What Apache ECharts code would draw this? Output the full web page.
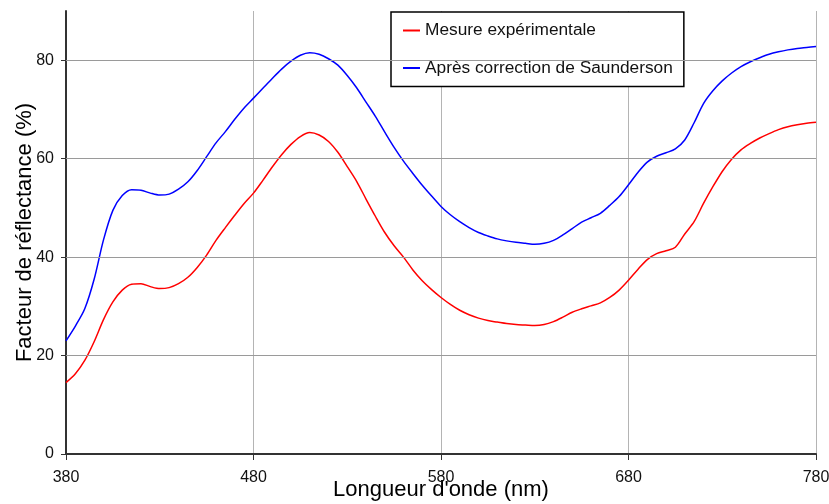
<!DOCTYPE html>
<html>
<head>
<meta charset="utf-8">
<script src="https://cdn.jsdelivr.net/npm/echarts@6/dist/echarts.min.js"></script>
<style>html,body{margin:0;padding:0;background:#fff;}#c{width:829px;height:504px;}</style>
</head>
<body>
<div id="c"></div>
<script>
const wavelengths = [];
for (let w = 380; w <= 780; w += 5) wavelengths.push(w);

const seriesNames = ['Mesure expérimentale', 'Après correction de Saunderson'];

const measured = [
  14.5, 16.3, 19.0, 22.8, 27.3, 30.9, 33.3, 34.5, 34.6, 34.0,
  33.6, 33.8, 34.6, 35.9, 37.9, 40.4, 43.4, 46.0, 48.5, 50.9,
  53.0, 55.6, 58.3, 60.8, 62.9, 64.5, 65.3, 64.8, 63.5, 61.3,
  58.4, 55.4, 51.8, 48.3, 45.0, 42.3, 40.0, 37.4, 35.2, 33.4,
  31.8, 30.4, 29.2, 28.3, 27.6, 27.1, 26.8, 26.5, 26.3, 26.2,
  26.1, 26.3, 26.9, 27.8, 28.8, 29.5, 30.1, 30.7, 31.8, 33.3,
  35.3, 37.5, 39.5, 40.7, 41.3, 42.0, 44.7, 47.2, 50.9, 54.3,
  57.4, 59.9, 61.8, 63.1, 64.2, 65.1, 65.9, 66.5, 66.9, 67.2,
  67.4
];

const corrected = [
  23.0, 26.0, 29.5, 35.5, 43.5, 49.5, 52.5, 53.7, 53.6, 53.0,
  52.6, 52.8, 53.8, 55.3, 57.6, 60.4, 63.2, 65.5, 68.0, 70.3,
  72.3, 74.3, 76.3, 78.2, 79.8, 81.0, 81.5, 81.2, 80.3, 79.0,
  76.9, 74.4, 71.5, 68.6, 65.4, 62.3, 59.5, 57.0, 54.6, 52.4,
  50.3, 48.6, 47.2, 46.0, 45.0, 44.3, 43.7, 43.3, 43.0, 42.8,
  42.6, 42.8, 43.4, 44.5, 45.8, 47.1, 48.0, 48.9, 50.5, 52.3,
  54.7, 57.2, 59.3, 60.5, 61.2, 62.0, 63.8, 67.3, 71.2, 73.8,
  75.8, 77.4, 78.7, 79.7, 80.5, 81.2, 81.7, 82.1, 82.4, 82.6,
  82.8
];

const xTicks = [380, 480, 580, 680, 780];
const yTicks = [0, 20, 40, 60, 80];
const yMax = 90;

const font = 'Liberation Sans, Arial, sans-serif';
const chart = echarts.init(document.getElementById('c'), null, {renderer: 'canvas'});

const pairs = (vals) => wavelengths.map((w, i) => [w, vals[i]]);

chart.setOption({
  animation: false,
  backgroundColor: '#ffffff',
  textStyle: {fontFamily: font},
  grid: {left: 66, right: 13, top: 11, bottom: 50, containLabel: false, outerBoundsMode: 'none'},
  legend: {
    orient: 'vertical',
    left: 391, top: 12,
    padding: [10, 11, 10, 12],
    itemGap: 20.5,
    itemWidth: 17, itemHeight: 2,
    icon: 'rect',
    backgroundColor: '#ffffff',
    borderColor: '#000000',
    borderWidth: 1.5,
    borderRadius: 0,
    textStyle: {fontFamily: font, fontSize: 17.3, color: '#111', padding: [0, 0, 0, 0]},
    data: seriesNames
  },
  xAxis: {
    type: 'value',
    min: xTicks[0], max: xTicks[xTicks.length - 1], interval: 100,
    name: "Longueur d'onde (nm)",
    nameLocation: 'middle', nameGap: 25, nameMoveOverlap: false,
    nameTextStyle: {fontFamily: font, fontSize: 22, color: '#000'},
    axisLine: {show: true, lineStyle: {color: '#333', width: 2}},
    axisTick: {show: true, length: 6, lineStyle: {color: '#333', width: 1}},
    axisLabel: {fontFamily: font, fontSize: 16, color: '#111', margin: 16},
    splitLine: {show: true, lineStyle: {color: '#b4b4b4', width: 1}}
  },
  yAxis: {
    type: 'value',
    min: 0, max: yMax, interval: 20,
    name: 'Facteur de réflectance (%)',
    nameLocation: 'middle', nameGap: 30, nameMoveOverlap: false,
    nameTextStyle: {fontFamily: font, fontSize: 22, color: '#000'},
    axisLine: {show: true, lineStyle: {color: '#333', width: 2}},
    axisTick: {show: true, length: 5, customValues: yTicks, lineStyle: {color: '#333', width: 1}},
    axisLabel: {fontFamily: font, fontSize: 16, color: '#111', margin: 12, customValues: yTicks},
    splitLine: {show: false}
  },
  series: [
    {
      name: seriesNames[0],
      type: 'line',
      data: pairs(measured),
      showSymbol: false, symbol: 'none',
      smooth: 0.3,
      lineStyle: {color: '#ff0000', width: 1.5},
      itemStyle: {color: '#ff0000'},
      z: 3,
      markLine: {
        silent: true, symbol: 'none', animation: false,
        label: {show: false},
        lineStyle: {color: '#9a9a9a', width: 1, type: 'solid'},
        data: yTicks.filter(v => v > 0).map(v => ({yAxis: v}))
      }
    },
    {
      name: seriesNames[1],
      type: 'line',
      data: pairs(corrected),
      showSymbol: false, symbol: 'none',
      smooth: 0.3,
      lineStyle: {color: '#0000ff', width: 1.5},
      itemStyle: {color: '#0000ff'},
      z: 3
    }
  ]
});
</script>
</body>
</html>
